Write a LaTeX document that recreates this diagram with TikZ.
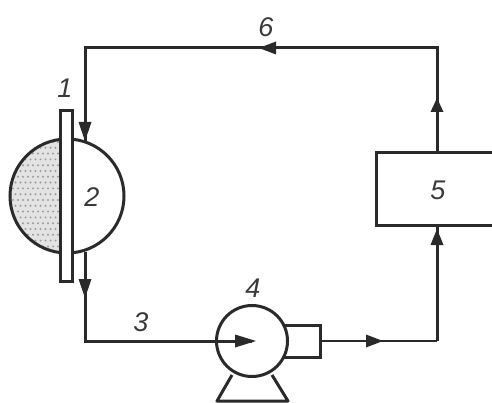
\documentclass[tikz,border=0pt]{standalone}
\usepackage{fontspec}
\setmainfont{Liberation Sans}
\usetikzlibrary{calc}
\definecolor{ink}{HTML}{2A2A2A}
\definecolor{txt}{HTML}{3A3A3A}
\tikzset{
  x=1pt,y=-1pt,
  ln/.style={draw=ink,line width=3pt},
  thin ln/.style={draw=ink,line width=2.7pt},
  tip/.style={fill=ink,draw=none},
  lbl/.style={text=txt,font=\fontsize{27}{27}\selectfont\itshape,inner sep=0pt}
}
\newcommand{\arrowat}[4]{% tip x, tip y, direction angle, length
  \fill[tip,shift={(#1,#2)},rotate=#3] (0,0) -- (-#4,6.5) -- (-#4,-6.5) -- cycle;}
\begin{document}
\begin{tikzpicture}
\useasboundingbox (0,0) rectangle (492,403);
% coordinates
\coordinate (gc) at (67,196);
\coordinate (in) at (85,141);
\coordinate (tl) at (85,48);
\coordinate (tr) at (437,48);
\coordinate (out) at (85,252);
\coordinate (bl) at (85,341);
\coordinate (pc) at (252,341);
\coordinate (ml) at (437,341);
% shaded half
\begin{scope}
  \clip (67,139) arc[start angle=270,end angle=90,radius=57] -- cycle;
  \fill[gray!22] (0,130) rectangle (70,260);
  \foreach \i in {0,...,19}{
    \foreach \j in {0,...,11}{
      \fill[gray!75!black,opacity=.55] ({8+\j*5+mod(\i,2)*2.5},{142+\i*5.8}) circle[radius=1.1];
    }
  }
\end{scope}
\draw[ln] (gc) circle[radius=57];
% plate
\node[draw=ink,line width=3pt,fill=white,minimum width=12pt,minimum height=171pt,inner sep=0pt,anchor=center] (plate) at (66,196) {};
% pump
\node[draw=ink,line width=3pt,fill=white,minimum width=46pt,minimum height=32pt,inner sep=0pt] (motor) at (297.5,341) {};
\node[circle,draw=ink,line width=3pt,fill=white,minimum size=71pt,inner sep=0pt] (pump) at (pc) {};
\coordinate (fl) at (232,375);
\coordinate (fr) at (272,375);
\draw[ln,line join=round] (fl) -- (217,401) -- (288,401) -- (fr);
% box
\coordinate (b5tl) at (376,153);
\coordinate (b5bl) at (376,226);
\draw[ln] (492,153) -- (b5tl) -- (b5bl) -- (492,226);
\coordinate (b5t) at (437,153);
\coordinate (b5b) at (437,226);
% connectors
\draw[ln,line join=miter] (b5t) -- (tr) -- (tl) -- (in);
\draw[ln,line join=miter] (out) -- (bl) -- (pc);
\draw[thin ln] (motor.east) -- (ml);
\draw[ln,line join=miter] (ml) -- (b5b);
% arrowheads
\arrowat{85}{141}{-90}{19}
\arrowat{85}{298}{-90}{19}
\arrowat{256}{341}{0}{21}
\arrowat{383}{341}{0}{17}
\arrowat{437}{229}{90}{16}
\arrowat{437}{98}{90}{14}
\arrowat{259}{48}{180}{17}
% labels
\node[lbl] (l1) at (65,88) {1};
\node[lbl] (l2) at (92,197) {2};
\node[lbl] (l3) at (141,322) {3};
\node[lbl] (l4) at (253,288) {4};
\node[lbl] (l5) at (438,190) {5};
\node[lbl] (l6) at (266,27) {6};
\end{tikzpicture}
\end{document}
